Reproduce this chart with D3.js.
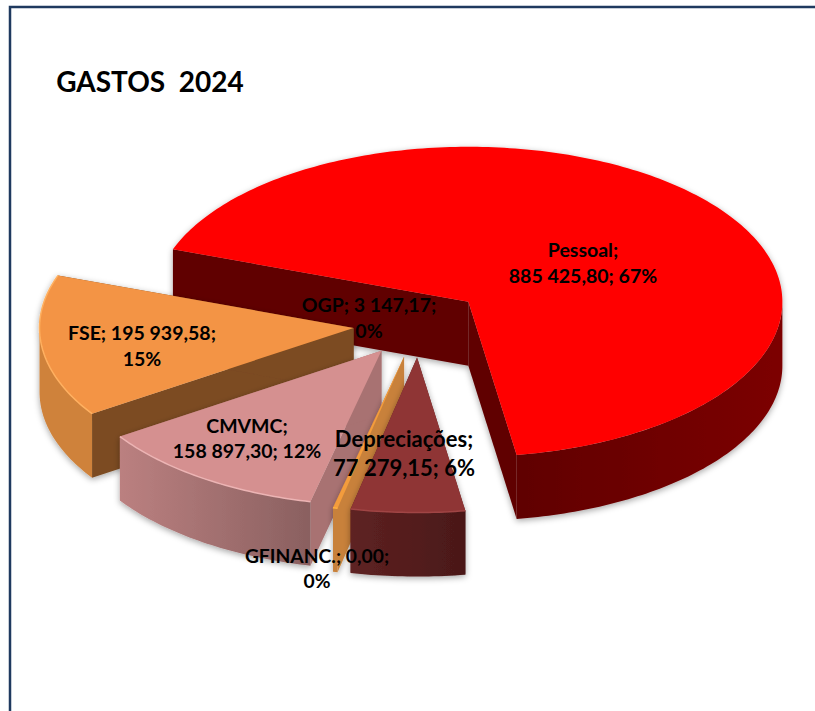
<!DOCTYPE html>
<html>
<head>
<meta charset="utf-8">
<script src="https://cdn.jsdelivr.net/npm/d3@7/dist/d3.min.js"></script>
<style>
html,body{margin:0;padding:0;background:#fff;}
svg{display:block;}
text{font-family:Lato,"Noto Sans",sans-serif;font-weight:700;fill:#000;text-anchor:middle;white-space:pre;}
</style>
</head>
<body>
<svg id="c" width="815" height="711"></svg>
<script>
const title = "GASTOS  2024";
const categories = ["Pessoal","Depreciações","GFINANC.","OGP","CMVMC","FSE"];
const values = [885425.80,77279.15,0,3147.17,158897.30,195939.58];
const percents = ["67%","6%","0%","0%","12%","15%"];
const valueLabels = ["885 425,80","77 279,15","0,00","3 147,17","158 897,30","195 939,58"];

const W = 815, H = 711;
const deg = Math.PI/180;
const cx = 417, cy = 322, rx = 314, ry = 155, depth = 64, explode = 0.21, first = 289.8*deg;

const topC   = {Pessoal:"#ff0000","Depreciações":"#8f3535","GFINANC.":"#f0a040",OGP:"#f39c3c",CMVMC:"#d59090",FSE:"#f39444"};
const wallC  = {Pessoal:"#600000","Depreciações":"#5a2020","GFINANC.":"#c8813a",OGP:"#c8813a",CMVMC:"#a87272",FSE:"#7b4b22"};
const outerC = {Pessoal:["#600000","#7c0000"],"Depreciações":["#5e2222","#4a1818"],"GFINANC.":["#c8813a","#c8813a"],OGP:["#c8813a","#c8813a"],CMVMC:["#bb8080","#8a6060"],FSE:["#cf823b","#cf823b"]};
const rimC   = {CMVMC:"#ecb4b4",FSE:"#ffb060",OGP:"#ffb040","Depreciações":"#a04444"};
const nudge  = {Pessoal:[0.5,0.5],"Depreciações":[2,3],"GFINANC.":[1.5,3],OGP:[1.5,3],CMVMC:[2,2],FSE:[2,2]};
const paintOrder = ["Pessoal","FSE","CMVMC","GFINANC.","OGP","Depreciações"];
const labelLines = {
  Pessoal:[["Pessoal;",583,257],["885 425,80; 67%",583,283]],
  FSE:[["FSE; 195 939,58;",142,340],["15%",142,366]],
  OGP:[["OGP; 3 147,17;",369,312],["0%",369,338]],
  CMVMC:[["CMVMC;",247,433],["158 897,30; 12%",247,458]],
  "Depreciações":[["Depreciações;",404,447],["77 279,15; 6%",404,476]],
  "GFINANC.":[["GFINANC.; 0,00;",317,563],["0%",317,588]]
};
const labelSize = {Pessoal:19.5,FSE:19.5,OGP:19.5,CMVMC:19.5,"Depreciações":22,"GFINANC.":19.3};

const svg = d3.select("#c");
const defs = svg.append("defs");
const f = defs.append("filter").attr("id","sh").attr("x","-10%").attr("y","-10%").attr("width","120%").attr("height","125%");
f.append("feDropShadow").attr("dx",0).attr("dy",2).attr("stdDeviation",3).attr("flood-color","#000").attr("flood-opacity",0.35);

svg.append("rect").attr("width",W).attr("height",H).attr("fill","#fff");
svg.append("path").attr("d","M10,711V7H815").attr("fill","none").attr("stroke","#1f3a5f").attr("stroke-width",2.5);
svg.append("text").attr("x",150).attr("y",92).attr("font-size",28).text(title);

const x = d3.scaleLinear().domain([-1,1]).range([cx-rx,cx+rx]);
const y = d3.scaleLinear().domain([-1,1]).range([cy-ry,cy+ry]);
const line = d3.line();
const pie = d3.pie().sort(null).startAngle(first).endAngle(first+2*Math.PI);
const arcs = pie(values).map((d,i)=>({...d,name:categories[i]}));

function pt(o,r,a,dz,n){ return [x(o[0]+r*Math.sin(a))+n[0], y(o[1]-r*Math.cos(a))+n[1]+dz]; }
function samples(a0,a1){ const n=Math.max(2,Math.ceil((a1-a0)/(1*deg))); return d3.range(n+1).map(i=>a0+(a1-a0)*i/n); }
function frontSpan(a0,a1){
  for(let k=-1;k<3;k++){
    const lo=Math.max(a0,Math.PI/2+2*Math.PI*k), hi=Math.min(a1,1.5*Math.PI+2*Math.PI*k);
    if(hi>lo) return [lo,hi];
  }
  return null;
}

paintOrder.forEach((name,idx)=>{
  const d = arcs.find(a=>a.name===name);
  if(d.value===0) return;
  const mid=(d.startAngle+d.endAngle)/2;
  const o=[explode*Math.sin(mid),-explode*Math.cos(mid)];
  const n=nudge[name];
  const g=svg.append("g").attr("filter","url(#sh)");
  const apex=pt(o,0,0,0,n);
  [d.startAngle,d.endAngle].forEach(a=>{
    const e=pt(o,1,a,0,n);
    g.append("path").attr("d",line([apex,e,[e[0],e[1]+depth],[apex[0],apex[1]+depth]])+"Z").attr("fill",wallC[name]);
  });
  const span=frontSpan(d.startAngle,d.endAngle);
  if(span){
    const gid="g"+idx;
    const lg=defs.append("linearGradient").attr("id",gid);
    lg.append("stop").attr("offset",0).attr("stop-color",outerC[name][0]);
    lg.append("stop").attr("offset",1).attr("stop-color",outerC[name][1]);
    const as=samples(span[0],span[1]);
    const pts=as.map(a=>pt(o,1,a,0,n)).concat(as.slice().reverse().map(a=>pt(o,1,a,depth,n)));
    g.append("path").attr("d",line(pts)+"Z").attr("fill",`url(#${gid})`);
  }
  const arcPts=samples(d.startAngle,d.endAngle).map(a=>pt(o,1,a,0,n));
  g.append("path").attr("d",line([apex,...arcPts])+"Z").attr("fill",topC[name]);
  if(rimC[name]) g.append("path").attr("d",line(arcPts)).attr("fill","none").attr("stroke",rimC[name]).attr("stroke-width",1.5);
});

categories.forEach(name=>{
  labelLines[name].forEach(l=>{
    svg.append("text").attr("x",l[1]).attr("y",l[2]).attr("font-size",labelSize[name]).text(l[0]);
  });
});
</script>
</body>
</html>
